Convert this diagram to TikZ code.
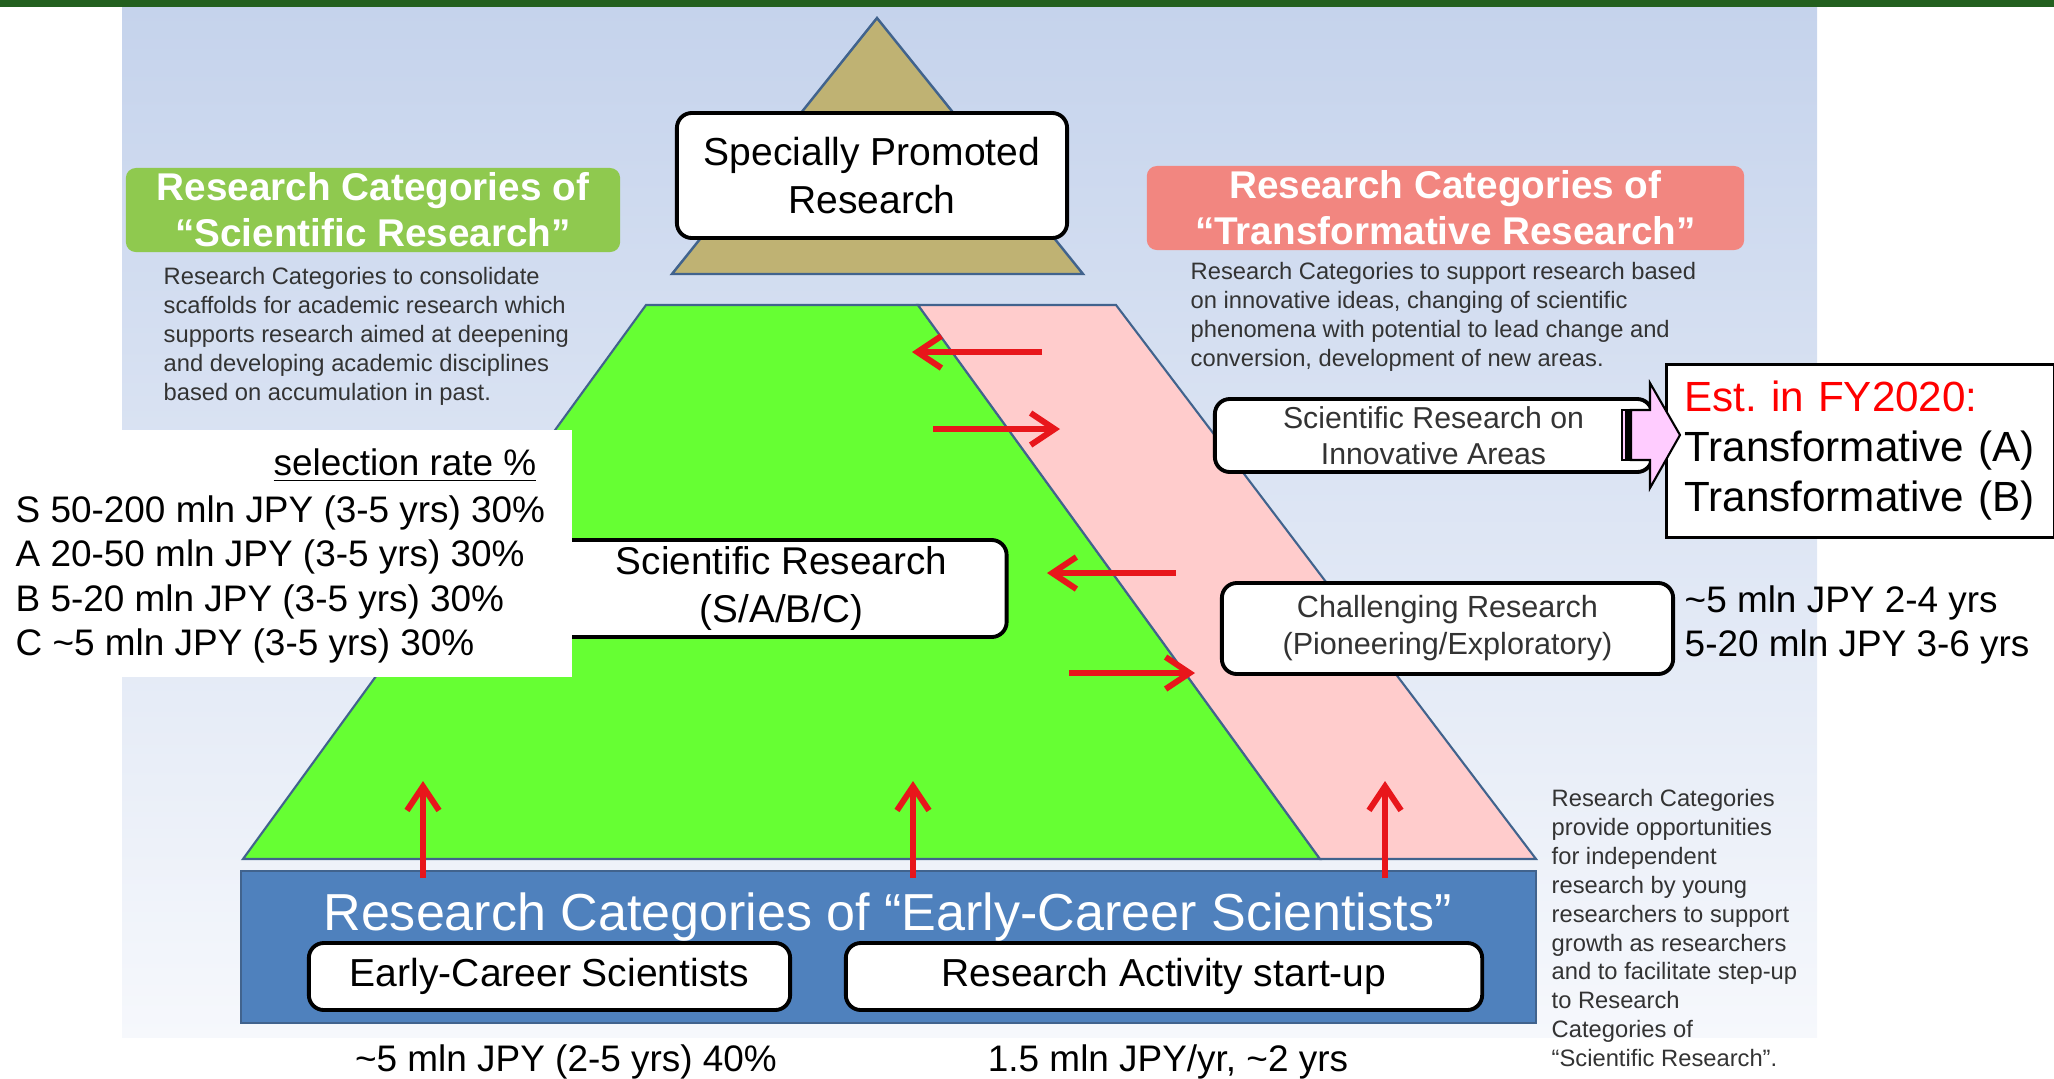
\documentclass[tikz,border=0pt]{standalone}
\usepackage{fontspec}
\setmainfont{Liberation Sans}
\usetikzlibrary{arrows.meta}

\definecolor{topbar}{HTML}{23601F}
\definecolor{paneltop}{HTML}{C5D3EC}
\definecolor{panelbot}{HTML}{F6F8FC}
\definecolor{khaki}{HTML}{BFB273}
\definecolor{edge}{HTML}{41638D}
\definecolor{sciGreen}{HTML}{66FF33}
\definecolor{trPink}{HTML}{FFCCCC}
\definecolor{ecBlue}{HTML}{4F81BD}
\definecolor{labGreen}{HTML}{8FC94F}
\definecolor{labPink}{HTML}{F28680}
\definecolor{arrRed}{HTML}{E8161B}
\definecolor{descGray}{HTML}{333333}
\definecolor{estPink}{HTML}{FFCCFF}

\begin{document}
\begin{tikzpicture}[x=0.01cm,y=-0.01cm,
  catbox/.style={draw,line width=1.1pt,fill=white,rounded corners=0.15cm,inner sep=0pt,align=center},
  catlabel/.style={fill=#1,rounded corners=0.1cm,text=white,inner sep=0pt,align=center,
    minimum height=0.84cm,font=\bfseries\fontsize{11}{13.1}\selectfont},
  desc/.style={anchor=north west,inner sep=0pt,align=left,text=descGray,font=\fontsize{6.75}{8.2}\selectfont},
  amount/.style={inner sep=0pt,font=\fontsize{10.5}{12.6}\selectfont},
  redarr/.style={draw=arrRed,line width=1.7pt,-{Straight Barb[length=0.24cm,width=0.32cm]}}]
\useasboundingbox (0,0) rectangle (2054,1078);

% background
\fill[topbar] (0,0) rectangle (2054,7);
\shade[top color=paneltop,bottom color=panelbot] (122,7) rectangle (1817,1037);

% pyramid
\filldraw[fill=khaki,draw=edge,line width=0.7pt] (877,18) -- (1083,274) -- (672,274) -- cycle;
\filldraw[fill=sciGreen,draw=edge,line width=0.6pt] (646,305) -- (918,305) -- (1320,859) -- (243,859) -- cycle;
\filldraw[fill=trPink,draw=edge,line width=0.6pt] (918,305) -- (1116,305) -- (1536,859) -- (1320,859) -- cycle;
\filldraw[fill=ecBlue,draw=edge,line width=0.6pt] (241,871) rectangle (1536,1023);

\node[catlabel=labGreen,minimum width=4.94cm] (sciLab) at (373,210) {Research Categories of\\“Scientific Research”};
\node[catlabel=labPink,minimum width=5.97cm] (trLab) at (1445.5,208) {Research Categories of\\“Transformative Research”};

\node[desc] (sciDesc) at (163,267) {Research Categories to consolidate\\scaffolds for academic research which\\supports research aimed at deepening\\and developing academic disciplines\\based on accumulation in past.};
\node[desc] (trDesc) at (1190,262) {Research Categories to support research based\\on innovative ideas, changing of scientific\\phenomena with potential to lead change and\\conversion, development of new areas.};
\node[desc] (ecDesc) at (1551,789) {Research Categories\\provide opportunities\\for independent\\research by young\\researchers to support\\growth as researchers\\and to facilitate step-up\\to Research\\Categories of\\“Scientific Research”.};

% category boxes
\node[catbox,minimum width=3.9cm,minimum height=1.25cm,font=\fontsize{11.1}{13.4}\selectfont] (spr) at (872,175.5) {Specially Promoted\\Research};
\node[catbox,minimum width=4.5cm,minimum height=0.97cm,font=\fontsize{11}{13.4}\selectfont] (sci) at (781.5,588.5) {Scientific Research\\(S/A/B/C)};
\node[catbox,minimum width=4.37cm,minimum height=0.73cm,text=descGray,font=\fontsize{8.6}{10.2}\selectfont] (inno) at (1433.5,435.5) {Scientific Research on\\Innovative Areas};
\node[catbox,minimum width=4.51cm,minimum height=0.91cm,text=descGray,font=\fontsize{8.7}{10.5}\selectfont] (chal) at (1447.5,628.5) {Challenging Research\\(Pioneering/Exploratory)};
\node[catbox,minimum width=4.81cm,minimum height=0.67cm,font=\fontsize{11.1}{13}\selectfont] (ecs) at (549.5,976.5) {Early-Career Scientists};
\node[catbox,minimum width=6.36cm,minimum height=0.67cm,font=\fontsize{11.1}{13}\selectfont] (ras) at (1164,976.5) {Research Activity start-up};
\node[text=white,inner sep=0pt,font=\fontsize{14.8}{17}\selectfont,anchor=base] (ecTitle) at (887.5,930) {Research Categories of “Early-Career Scientists”};

% red arrows
\coordinate (l1a) at (1042,352); \coordinate (l1b) at (912,352);
\coordinate (r1a) at (933,429);  \coordinate (r1b) at (1060,429);
\coordinate (l2a) at (1176,573); \coordinate (l2b) at (1047,573);
\coordinate (r2a) at (1069,673); \coordinate (r2b) at (1195,673);
\coordinate (u1a) at (423,878);  \coordinate (u1b) at (423,781);
\coordinate (u2a) at (913,878);  \coordinate (u2b) at (913,781);
\coordinate (u3a) at (1385,878); \coordinate (u3b) at (1385,781);
\foreach \from/\to in {l1a/l1b,r1a/r1b,l2a/l2b,r2a/r2b,u1a/u1b,u2a/u2b,u3a/u3b}
\draw[redarr] (\from) -- (\to);

% grant sizes
\fill[white] (0,430) rectangle (572,677);
\node[amount,anchor=base east] (selRate) at (537,475) {\underline{selection rate \%}};
\node[amount,anchor=north west,align=left] (sciAmt) at (15,495) {S 50-200 mln JPY (3-5 yrs) 30\%\\A 20-50 mln JPY (3-5 yrs) 30\%\\B 5-20 mln JPY (3-5 yrs) 30\%\\C \textasciitilde5 mln JPY (3-5 yrs) 30\%};
\node[amount,anchor=north west,align=left] (chalAmt) at (1684,585) {\textasciitilde5 mln JPY 2-4 yrs\\5-20 mln JPY 3-6 yrs};
\node[amount,anchor=base] (ecsAmt) at (566,1071) {\textasciitilde5 mln JPY (2-5 yrs) 40\%};
\node[amount,anchor=base] (rasAmt) at (1168,1071) {1.5 mln JPY/yr, \textasciitilde2 yrs};

\node[draw,fill=white,line width=0.8pt,anchor=north west,minimum height=1.73cm,text width=3.52cm,
  inner xsep=0.18cm,align=left,font=\fontsize{12}{14.2}\selectfont] (est) at (1665,363)
  {\textcolor{red}{Est.\ in FY2020:}\\Transformative (A)\\Transformative (B)};
\filldraw[fill=estPink,line width=0.6pt] (1631,410) -- (1650,410) -- (1650,383) -- (1680,435) -- (1650,488) -- (1650,460) -- (1631,460) -- cycle;
\filldraw[fill=estPink,line width=0.6pt] (1622,410) rectangle (1626,460) (1627.5,410) rectangle (1630,460); % stripes
\end{tikzpicture}
\end{document}
